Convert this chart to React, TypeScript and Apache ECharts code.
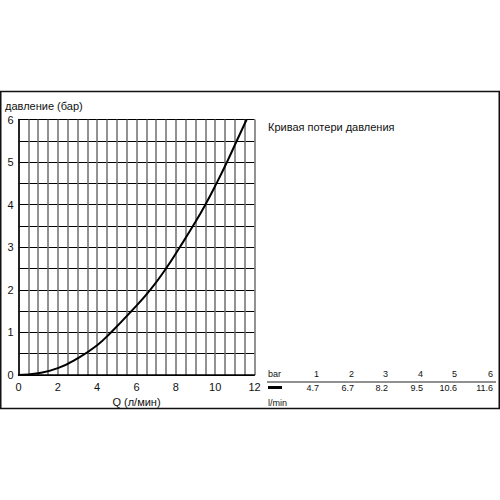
import React, { useEffect, useRef } from "react";
import * as echarts from "echarts";

const flowQ = [0, 1, 2, 3, 4, 4.7, 5.7, 6.7, 7.5, 8.2, 8.9, 9.5, 10.1, 10.6, 11.1, 11.6];
const pressureBar = [0, 0.04, 0.16, 0.39, 0.7, 1, 1.48, 2, 2.5, 3, 3.52, 4, 4.53, 5, 5.5, 6];
const tableBar = ["1", "2", "3", "4", "5", "6"];
const tableFlow = ["4.7", "6.7", "8.2", "9.5", "10.6", "11.6"];
const yTitle = "давление (бар)";
const xTitle = "Q (л/мин)";
const chartTitle = "Кривая потери давления";

const FONT = "Liberation Sans, Arial, sans-serif";

export default function App() {
  const ref = useRef<HTMLDivElement>(null);
  useEffect(() => {
    if (!ref.current) return;
    const chart = echarts.init(ref.current, null, { renderer: "svg" });
    const colX = [319, 354, 388, 423, 457, 493];
    const graphics: any[] = [
      {
        type: "rect",
        shape: { x: 0.75, y: 91.5, width: 498.5, height: 317 },
        style: { fill: "none", stroke: "#111", lineWidth: 1.5 },
        silent: true,
      },
      {
        type: "text",
        left: 5,
        top: 100,
        style: { text: yTitle, font: `11px ${FONT}`, fill: "#111" },
      },
      {
        type: "text",
        left: 268,
        top: 121,
        style: { text: chartTitle, font: `11px ${FONT}`, fill: "#111" },
      },
      {
        type: "text",
        x: 268,
        y: 374,
        style: { text: "bar", font: `9px ${FONT}`, fill: "#111", textVerticalAlign: "middle" },
      },
      {
        type: "line",
        shape: { x1: 267, y1: 382, x2: 496, y2: 382 },
        style: { stroke: "#222", lineWidth: 1 },
      },
      {
        type: "line",
        shape: { x1: 268, y1: 387.5, x2: 282, y2: 387.5 },
        style: { stroke: "#000", lineWidth: 3 },
      },
      {
        type: "text",
        x: 268,
        y: 403,
        style: { text: "l/min", font: `9px ${FONT}`, fill: "#111", textVerticalAlign: "middle" },
      },
    ];
    tableBar.forEach((t, i) => {
      graphics.push({
        type: "text",
        x: colX[i],
        y: 374,
        style: { text: t, font: `9px ${FONT}`, fill: "#111", textAlign: "right", textVerticalAlign: "middle" },
      });
    });
    tableFlow.forEach((t, i) => {
      graphics.push({
        type: "text",
        x: colX[i],
        y: 388,
        style: { text: t, font: `9px ${FONT}`, fill: "#111", textAlign: "right", textVerticalAlign: "middle" },
      });
    });

    chart.setOption({
      animation: false,
      backgroundColor: "#fff",
      grid: { left: 18.5, top: 119.5, width: 236, height: 255.5, containLabel: false },
      xAxis: {
        type: "value",
        min: 0,
        max: 12,
        interval: 2,
        name: xTitle,
        nameLocation: "middle",
        nameGap: 20,
        nameTextStyle: { fontFamily: FONT, fontSize: 11, color: "#111" },
        axisLine: { show: true, lineStyle: { color: "#000", width: 1.5 } },
        axisTick: { show: false },
        axisLabel: { fontFamily: FONT, fontSize: 11, color: "#111", margin: 6 },
        splitLine: { show: true, lineStyle: { color: "#6e6e6e", width: 1.5 } },
        minorTick: { show: false, splitNumber: 4 },
        minorSplitLine: { show: true, lineStyle: { color: "#6e6e6e", width: 1.5 } },
      },
      yAxis: {
        type: "value",
        min: 0,
        max: 6,
        interval: 1,
        axisLine: { show: true, lineStyle: { color: "#000", width: 1.5 } },
        axisTick: { show: false },
        axisLabel: { fontFamily: FONT, fontSize: 11, color: "#111", margin: 5 },
        splitLine: { show: true, lineStyle: { color: "#000", width: 1 } },
        minorTick: { show: false, splitNumber: 2 },
        minorSplitLine: { show: true, lineStyle: { color: "#000", width: 1 } },
      },
      series: [
        {
          type: "line",
          data: flowQ.map((q, i) => [q, pressureBar[i]]),
          smooth: true,
          showSymbol: false,
          lineStyle: { color: "#000", width: 2 },
          z: 5,
        },
      ],
      graphic: graphics,
    });
    return () => chart.dispose();
  }, []);
  return (
    <div
      ref={ref}
      style={{ position: "absolute", left: 0, top: 0, width: 500, height: 500 }}
    />
  );
}
